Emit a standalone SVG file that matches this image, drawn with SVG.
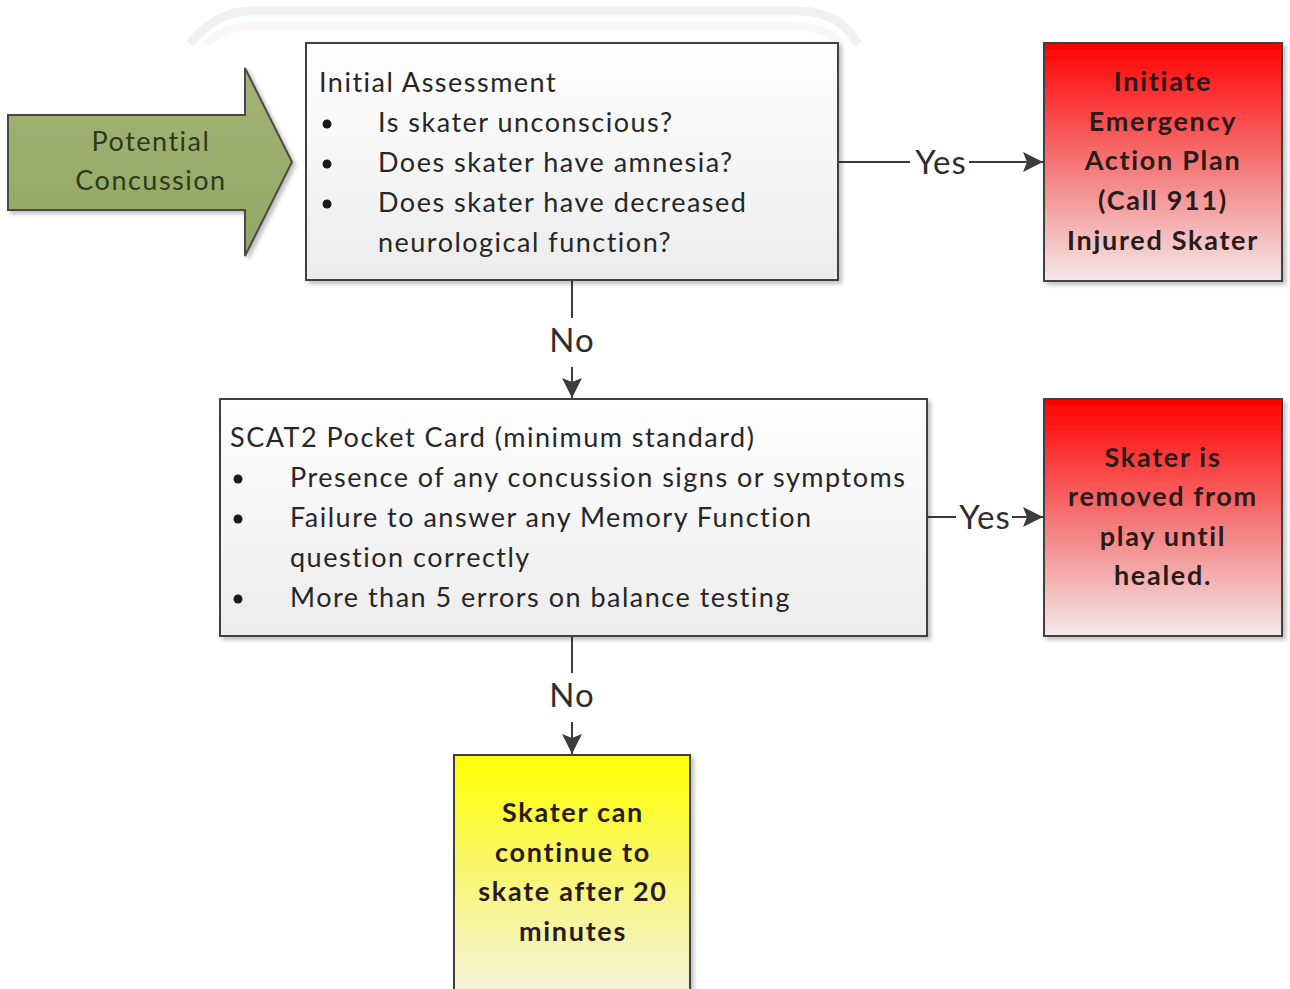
<svg xmlns="http://www.w3.org/2000/svg" width="1290" height="989" viewBox="0 0 1290 989">
<defs>
<linearGradient id="gGray" x1="0" y1="0" x2="0" y2="1"><stop offset="0" stop-color="#ffffff"/><stop offset="1" stop-color="#ececec"/></linearGradient>
<linearGradient id="gRed" x1="0" y1="0" x2="0" y2="1"><stop offset="0" stop-color="#ff0000"/><stop offset="0.55" stop-color="#f48080"/><stop offset="1" stop-color="#f3e9e9"/></linearGradient>
<linearGradient id="gYellow" x1="0" y1="0" x2="0" y2="1"><stop offset="0" stop-color="#ffff00"/><stop offset="0.6" stop-color="#f8f590"/><stop offset="1" stop-color="#f3f2e4"/></linearGradient>
<linearGradient id="gGreen" x1="0" y1="0" x2="0" y2="1"><stop offset="0" stop-color="#a3b474"/><stop offset="1" stop-color="#93a665"/></linearGradient>
<filter id="sh" x="-5%" y="-5%" width="115%" height="115%"><feDropShadow dx="3" dy="3" stdDeviation="2" flood-color="#000" flood-opacity="0.25"/></filter>
<marker id="ahL" viewBox="0 0 10 10" refX="10" refY="5" markerWidth="22" markerHeight="20" markerUnits="userSpaceOnUse" orient="auto"><path d="M0,0 L10,5 L0,10 L2,5 Z" fill="#3c3c3c"/></marker>
</defs>
<style>
.box{stroke:#3f3f3f;stroke-width:2;filter:url(#sh)}
.t{font-family:Lato,"Open Sans",sans-serif;font-size:27px;letter-spacing:1.5px;fill:#262626}
.g{font-family:Lato,"Open Sans",sans-serif;font-size:27px;letter-spacing:1.5px;fill:#2d3a1c;text-anchor:middle}
.b{font-family:Lato,"Open Sans",sans-serif;font-size:27px;letter-spacing:1.7px;font-weight:bold;fill:#2a1a1a;text-anchor:middle}
.lbl{font-family:Lato,"Open Sans",sans-serif;font-size:33px;letter-spacing:1px;fill:#2e2e2e;text-anchor:middle}
.ln{stroke:#3c3c3c;stroke-width:2;fill:none}
</style>
<rect width="1290" height="989" fill="#ffffff"/>
<g id="watermark" fill="none">
<path d="M190,44 Q215,12 250,11 L800,11 Q840,12 858,44" stroke="#f1f1f1" stroke-width="9"/>
<path d="M205,44 Q225,27 252,26 L795,26 Q825,27 842,44" stroke="#fcf6f8" stroke-width="8"/>
</g>
<g id="connectors">
<line class="ln" x1="838" y1="162" x2="910" y2="162"/>
<line class="ln" x1="969" y1="162" x2="1043" y2="162" marker-end="url(#ahL)"/>
<text class="lbl" x="941" y="174">Yes</text>
<line class="ln" x1="927" y1="517" x2="956" y2="517"/>
<line class="ln" x1="1012" y1="517" x2="1043" y2="517" marker-end="url(#ahL)"/>
<text class="lbl" x="985" y="529">Yes</text>
<line class="ln" x1="572" y1="280" x2="572" y2="318"/>
<line class="ln" x1="572" y1="367" x2="572" y2="398" marker-end="url(#ahL)"/>
<text class="lbl" x="572" y="352">No</text>
<line class="ln" x1="572" y1="636" x2="572" y2="673"/>
<line class="ln" x1="572" y1="722" x2="572" y2="754" marker-end="url(#ahL)"/>
<text class="lbl" x="572" y="707">No</text>
</g>
<g id="potential-concussion">
<path d="M8,115 L245,115 L245,68 L292,162 L245,256 L245,210 L8,210 Z" fill="url(#gGreen)" stroke="#4a4a4a" stroke-width="2" filter="url(#sh)"/>
<text class="g" x="151" y="151">Potential</text>
<text class="g" x="151" y="190">Concussion</text>
</g>
<g id="initial-assessment">
<rect class="box" x="306" y="43" width="532" height="237" fill="url(#gGray)"/>
<text class="t" x="319" y="92">Initial Assessment</text>
<circle cx="327" cy="124" r="4.5" fill="#1a1a1a"/>
<circle cx="327" cy="164" r="4.5" fill="#1a1a1a"/>
<circle cx="327" cy="204" r="4.5" fill="#1a1a1a"/>
<text class="t" x="378" y="132">Is skater unconscious?</text>
<text class="t" x="378" y="172">Does skater have amnesia?</text>
<text class="t" x="378" y="212">Does skater have decreased</text>
<text class="t" x="378" y="252">neurological function?</text>
</g>
<g id="emergency">
<rect class="box" x="1044" y="43" width="238" height="238" fill="url(#gRed)"/>
<text class="b" x="1163" y="91">Initiate</text>
<text class="b" x="1163" y="131">Emergency</text>
<text class="b" x="1163" y="170">Action Plan</text>
<text class="b" x="1163" y="210">(Call 911)</text>
<text class="b" x="1163" y="250">Injured Skater</text>
</g>
<g id="scat2">
<rect class="box" x="220" y="399" width="707" height="237" fill="url(#gGray)"/>
<text class="t" x="230" y="447">SCAT2 Pocket Card (minimum standard)</text>
<circle cx="238" cy="479" r="4.5" fill="#1a1a1a"/>
<circle cx="238" cy="519" r="4.5" fill="#1a1a1a"/>
<circle cx="238" cy="599" r="4.5" fill="#1a1a1a"/>
<text class="t" x="290" y="487">Presence of any concussion signs or symptoms</text>
<text class="t" x="290" y="527">Failure to answer any Memory Function</text>
<text class="t" x="290" y="567">question correctly</text>
<text class="t" x="290" y="607">More than 5 errors on balance testing</text>
</g>
<g id="removed">
<rect class="box" x="1044" y="399" width="238" height="237" fill="url(#gRed)"/>
<text class="b" x="1163" y="467">Skater is</text>
<text class="b" x="1163" y="506">removed from</text>
<text class="b" x="1163" y="546">play until</text>
<text class="b" x="1163" y="585">healed.</text>
</g>
<g id="continue">
<rect class="box" x="454" y="755" width="236" height="250" fill="url(#gYellow)"/>
<text class="b" x="573" y="822">Skater can</text>
<text class="b" x="573" y="862">continue to</text>
<text class="b" x="573" y="901">skate after 20</text>
<text class="b" x="573" y="941">minutes</text>
</g>
</svg>
